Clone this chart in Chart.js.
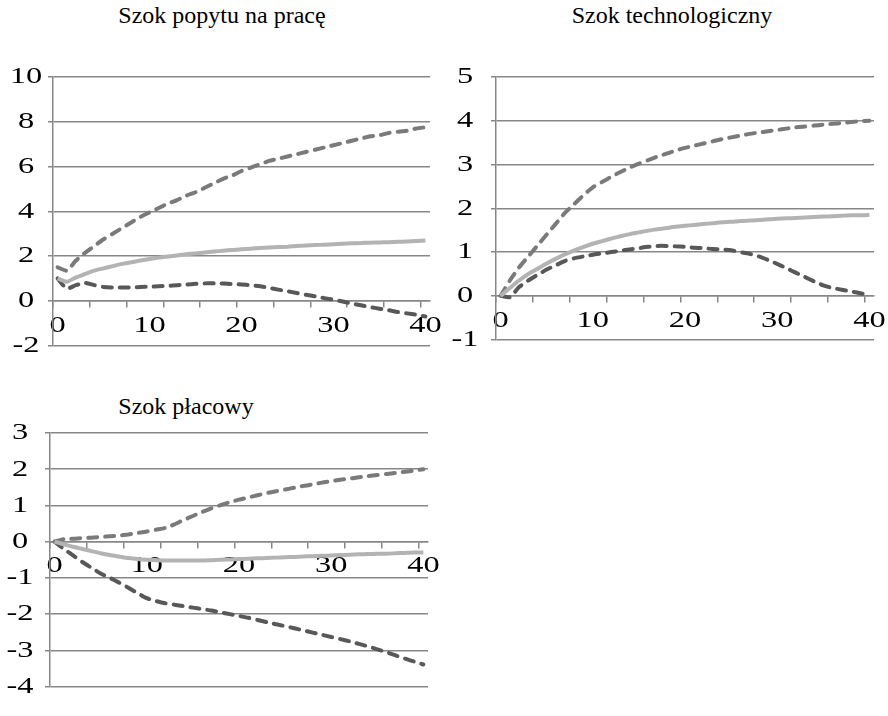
<!DOCTYPE html>
<html lang="pl">
<head>
<meta charset="UTF-8">
<title>Funkcje reakcji na szoki</title>
<script src="https://cdn.jsdelivr.net/npm/chart.js"></script>
<style>
  body { margin: 0; background: #fff; }
  #wrap { position: relative; width: 888px; height: 716px; overflow: hidden; }
  .box { position: absolute; }
  .title {
    position: absolute;
    font-family: "Liberation Serif", "Times New Roman", serif;
    font-size: 24px;
    line-height: 28px;
    color: #000;
    white-space: nowrap;
    transform: translateX(-50%);
  }
</style>
</head>
<body>
<div id="wrap">
  <div class="title" style="left:222px; top:1px;">Szok popytu na pracę</div>
  <div class="title" style="left:672px; top:1px;">Szok technologiczny</div>
  <div class="title" style="left:186px; top:392px;">Szok płacowy</div>
  <canvas id="c1" class="box" width="444" height="370" style="left:0; top:0;"></canvas>
  <canvas id="c2" class="box" width="444" height="370" style="left:444px; top:0;"></canvas>
  <canvas id="c3" class="box" width="444" height="336" style="left:0; top:380px;"></canvas>
</div>

<script>
// horizon (quarters)
const periods = ['0','1','2','3','4','5','6','7','8','9','10','11','12','13','14','15','16','17','18','19','20',
  '21','22','23','24','25','26','27','28','29','30','31','32','33','34','35','36','37','38','39','40'];

// labour demand shock
const demandMid = [1.0, 0.85, 1.05, 1.2, 1.35, 1.45, 1.55, 1.65, 1.72, 1.8, 1.87, 1.93, 1.98, 2.03, 2.08, 2.12, 2.16, 2.2, 2.24, 2.27, 2.3,
  2.33, 2.36, 2.38, 2.4, 2.42, 2.45, 2.47, 2.49, 2.51, 2.53, 2.55, 2.57, 2.58, 2.6, 2.61, 2.62, 2.64, 2.65, 2.67, 2.7];
const demandUp = [1.5, 1.35, 1.8, 2.15, 2.45, 2.75, 3.0, 3.25, 3.5, 3.75, 3.95, 4.15, 4.35, 4.5, 4.7, 4.85, 5.05, 5.25, 5.45, 5.6, 5.8,
  5.95, 6.1, 6.25, 6.35, 6.45, 6.55, 6.65, 6.75, 6.85, 6.95, 7.05, 7.15, 7.25, 7.35, 7.4, 7.5, 7.55, 7.6, 7.7, 7.75];
const demandLow = [1.0, 0.55, 0.7, 0.8, 0.7, 0.62, 0.6, 0.6, 0.6, 0.62, 0.63, 0.65, 0.67, 0.7, 0.73, 0.76, 0.78, 0.78, 0.77, 0.75, 0.73,
  0.7, 0.65, 0.58, 0.5, 0.43, 0.35, 0.27, 0.2, 0.12, 0.05, -0.03, -0.12, -0.2, -0.28, -0.35, -0.42, -0.5, -0.56, -0.62, -0.7];

// technology shock
const techMid = [0, 0.18, 0.35, 0.5, 0.62, 0.74, 0.85, 0.95, 1.04, 1.12, 1.19, 1.25, 1.31, 1.36, 1.41, 1.45, 1.49, 1.52, 1.55, 1.58, 1.6,
  1.62, 1.64, 1.66, 1.68, 1.69, 1.71, 1.72, 1.73, 1.75, 1.76, 1.77, 1.78, 1.79, 1.8, 1.81, 1.82, 1.83, 1.84, 1.84, 1.85];
const techUp = [0, 0.35, 0.65, 0.9, 1.15, 1.4, 1.65, 1.9, 2.1, 2.3, 2.48, 2.6, 2.72, 2.83, 2.93, 3.02, 3.1, 3.18, 3.25, 3.32, 3.38,
  3.43, 3.48, 3.53, 3.58, 3.62, 3.66, 3.7, 3.73, 3.76, 3.79, 3.82, 3.85, 3.87, 3.89, 3.91, 3.93, 3.95, 3.97, 3.99, 4.0];
const techLow = [0, -0.03, 0.2, 0.35, 0.48, 0.6, 0.7, 0.8, 0.86, 0.9, 0.94, 0.97, 1.0, 1.03, 1.06, 1.09, 1.12, 1.14, 1.14, 1.13, 1.12,
  1.1, 1.09, 1.07, 1.06, 1.04, 1.0, 0.96, 0.9, 0.82, 0.73, 0.63, 0.53, 0.43, 0.33, 0.24, 0.18, 0.14, 0.1, 0.06, 0.02];

// wage shock
const wageMid = [0, -0.07, -0.14, -0.2, -0.26, -0.32, -0.37, -0.41, -0.45, -0.48, -0.5, -0.51, -0.52, -0.52, -0.52, -0.52, -0.52, -0.51, -0.5, -0.49, -0.48,
  -0.47, -0.46, -0.45, -0.44, -0.43, -0.42, -0.41, -0.4, -0.39, -0.38, -0.37, -0.36, -0.35, -0.34, -0.33, -0.33, -0.32, -0.31, -0.3, -0.3];
const wageUp = [0, 0.07, 0.08, 0.1, 0.11, 0.13, 0.15, 0.17, 0.2, 0.24, 0.28, 0.33, 0.38, 0.48, 0.6, 0.71, 0.82, 0.92, 1.01, 1.09, 1.16,
  1.22, 1.28, 1.34, 1.39, 1.44, 1.49, 1.54, 1.58, 1.63, 1.67, 1.71, 1.74, 1.78, 1.81, 1.84, 1.87, 1.9, 1.93, 1.96, 2.0];
const wageLow = [0, -0.2, -0.38, -0.56, -0.72, -0.88, -1.0, -1.13, -1.27, -1.42, -1.56, -1.64, -1.7, -1.74, -1.78, -1.82, -1.86, -1.9, -1.95, -2.0, -2.05,
  -2.1, -2.16, -2.22, -2.28, -2.33, -2.39, -2.45, -2.51, -2.57, -2.63, -2.69, -2.75, -2.82, -2.89, -2.97, -3.05, -3.14, -3.23, -3.31, -3.39];

const gridGray = '#878787';
const fontFamily = '"Liberation Serif", "Times New Roman", serif';

// axis numbers are drawn wider than the font's natural width
const wideLabels = {
  id: 'wideLabels',
  beforeDraw(chart) {
    const fill = chart.ctx.fillText;
    chart.ctx.fillText = function (text, x, y) {
      this.save();
      this.translate(x, y);
      this.scale(1.35, 1);
      fill.call(this, text, 0, 0);
      this.restore();
    };
  },
  afterDraw(chart) {
    delete chart.ctx.fillText;
  }
};

function dashed(data, color) {
  return {
    data: data,
    borderColor: color,
    borderWidth: 4,
    borderDash: [9, 8],
    borderCapStyle: 'round',
    pointRadius: 0,
    tension: 0.2,
    fill: false
  };
}

function solid(data) {
  return {
    data: data,
    borderColor: '#b3b3b3',
    borderWidth: 4,
    pointRadius: 0,
    tension: 0.2,
    fill: false
  };
}

function makeChart(id, cfg) {
  return new Chart(document.getElementById(id), {
    type: 'line',
    data: {
      labels: periods,
      datasets: [solid(cfg.mid), dashed(cfg.up, '#7a7a7a'), dashed(cfg.low, '#585858')]
    },
    options: {
      responsive: false,
      animation: false,
      events: [],
      layout: { padding: cfg.pad },
      plugins: { legend: { display: false }, tooltip: { enabled: false } },
      scales: {
        x: {
          type: 'category',
          position: { y: 0 },
          offset: true,
          border: { display: true, color: gridGray, width: 1.5 },
          grid: {
            offset: true,
            drawOnChartArea: false,
            drawTicks: true,
            tickLength: 6,
            lineWidth: 1.5,
            // tick marks every 4 periods, on category boundaries
            tickColor: (ctx) => (ctx.index % 4 === 0 ? gridGray : 'rgba(0,0,0,0)')
          },
          ticks: {
            autoSkip: false,
            maxRotation: 0,
            padding: 4,
            color: '#000',
            font: { family: fontFamily, size: 24 },
            callback: function (value, index) {
              return index % 10 === 0 ? this.getLabelForValue(value) : '';
            }
          }
        },
        y: {
          type: 'linear',
          min: cfg.min,
          max: cfg.max,
          afterFit: (scale) => { scale.width = cfg.axisWidth; },
          border: { display: true, color: gridGray, width: 1.5 },
          grid: { color: gridGray, lineWidth: 1.5, tickLength: 5 },
          ticks: {
            stepSize: cfg.step,
            crossAlign: 'center',
            padding: cfg.labelPad,
            color: '#000',
            font: { family: fontFamily, size: 24 }
          }
        }
      }
    },
    plugins: [wideLabels]
  });
}

makeChart('c1', { mid: demandMid, up: demandUp, low: demandLow, min: -2, max: 10, step: 2,
  axisWidth: 53, labelPad: 10, pad: { left: 0, right: 14, top: 77, bottom: 18 } });
makeChart('c2', { mid: techMid, up: techUp, low: techLow, min: -1, max: 5, step: 1,
  axisWidth: 52, labelPad: 16, pad: { left: 0, right: 14, top: 77, bottom: 18 } });
makeChart('c3', { mid: wageMid, up: wageUp, low: wageLow, min: -4, max: 3, step: 1,
  axisWidth: 50, labelPad: 15, pad: { left: 0, right: 16, top: 53, bottom: 7 } });
</script>
</body>
</html>
